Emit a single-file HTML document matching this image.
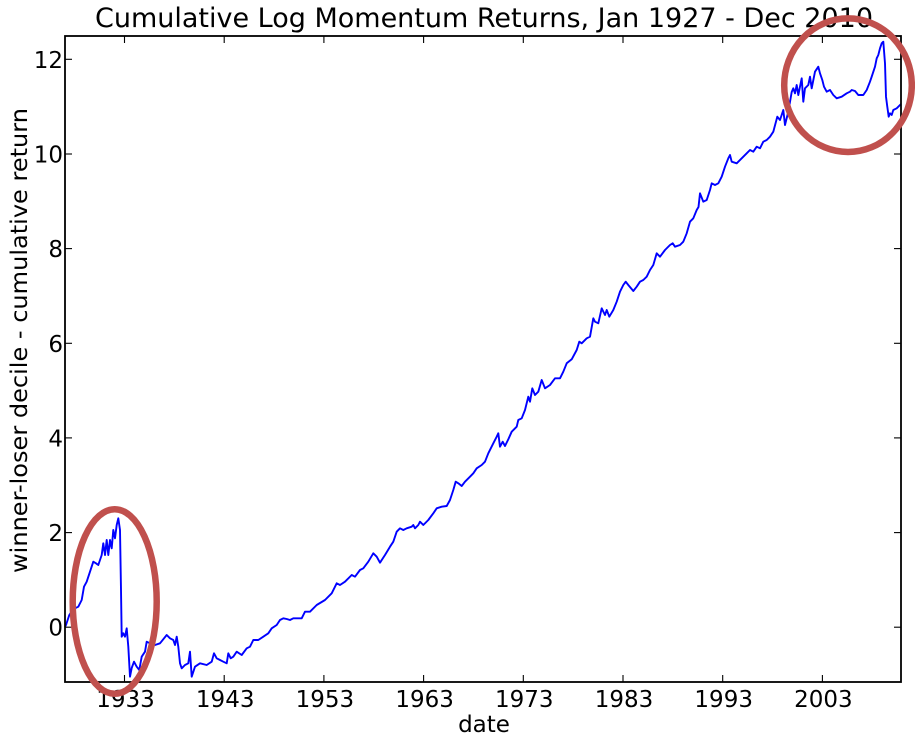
<!DOCTYPE html>
<html>
<head>
<meta charset="utf-8">
<style>
  html, body { margin: 0; padding: 0; background: #ffffff; }
  body { width: 915px; height: 738px; overflow: hidden; }
  svg { display: block; }
  text { font-family: "DejaVu Sans", "Liberation Sans", sans-serif; fill: #000; }
</style>
</head>
<body>
<svg width="915" height="738" viewBox="0 0 915 738" xmlns="http://www.w3.org/2000/svg">
  <rect x="0" y="0" width="915" height="738" fill="#ffffff"/>

  <!-- Title -->
  <text x="95" y="27" font-size="27" textLength="778" lengthAdjust="spacingAndGlyphs">Cumulative Log Momentum Returns, Jan 1927 - Dec 2010</text>

  <!-- Data line -->
  <polyline fill="none" stroke="#0000ff" stroke-width="1.9" stroke-linejoin="round" points="
65,627 66,625 69.3,615 72,611 75,608.3 78.3,606.7 81.7,600 84,586.7 86.7,581.7 90,571.7 93.3,561.7 96,563.3 98.3,565 101.7,555 103.3,543.3 105,555 106.7,540 108.3,555 110,540 111.7,548.3 113.3,530 115,538.3 116.7,525 118.3,518.3 120,530 121,590 121.7,636.7 123.3,633.3 125,636.7 126.7,628.3 128.3,646.7 130,676.7 131.7,668 134,661.7 136.7,666.7 139.3,670 141.7,656.7 145,651.7 146.7,641.7 150,643.3 155,645 160,643.3 166.7,635 170,638.3 173.3,640 175,645 176.7,636.7 178.3,646.7 180,663.3 181.7,668.3 185,665 188.3,663.3 190,651.7 191.7,676.7 195,666.7 200,663.3 206.7,665 211.7,661.7 214,653.3 216.7,658.3 220,660 223.3,661.7 226.7,663.3 228.3,653.3 230.7,658.3 233.3,656.7 236.7,651.7 241.7,655 246.7,648.3 250,646.7 253.3,640 258.3,640 263.3,636.7 268.3,633.3 271.7,628.3 276.7,625 280,620 283.3,618.3 286.7,619 290,620 293.3,618.3 296.7,618.3 301.7,618.3 305,611.7 310,611.7 316.7,605 325,600 331.7,593.3 336.7,583.3 340,585 345,581.7 351.7,575 355,576.7 360,570 363.3,568.3 368.3,561.7 373.3,553.3 376.7,556.7 380,562.7 385,555 390,546.7 393.3,541.7 396.7,531.7 400,528.3 403.3,530 406.7,528.3 411.7,526.7 413.3,525 415,528.3 418.3,525 420,521.7 423.3,525 428.3,520 433.3,513.3 436.7,508.3 441.7,506.7 446.7,506 450,500 453.3,490 455.7,481.7 458.3,483.3 461.7,486 465,481.7 470,476.7 473.3,473.3 476.7,468.3 481.7,465 485,461.7 488.3,453.3 493.3,443.3 496.7,436.7 498.3,433.3 500,446.7 502.7,441.7 505,446 508.3,439.3 511.7,431.7 516.7,426.7 518.3,420 521.7,418.3 525,410 528.3,396.7 530,401.7 532.3,388.3 535,395 538.3,391.7 541.7,380 545,388.3 550,385 555,378.3 560,378.3 563.3,371.7 566.7,363.3 571.7,359.3 576.7,350 579.3,341.7 581.7,343.3 586.7,338.3 590,336.7 593.3,318.3 595,321.7 598.3,323.3 601.7,308.3 605,315 606.7,310 609.3,316.7 613.3,310 616.7,301.7 620,291.7 623.3,285 625.7,281.7 628.3,285 633.3,291 636.7,286.7 640,281.7 643.3,280 646.7,276.7 650,270 653.3,265 656.7,253.3 660,256.7 665,250 670,245 672.7,243.3 675,246.7 680,245 683.3,241.7 686.7,233.3 690,221.7 693.3,218.3 696.7,210 698.5,207 700,193.3 703.3,201.7 706.7,200 710,190 711.7,183.3 715,185 718.3,183.3 721.7,176.7 725,166.7 728.3,158.3 730,155 731.7,161.7 736.7,163.3 741.7,158.3 746.7,153.3 750,150 753.3,151.7 756.7,146.7 760,148.3 763.3,141.7 766.7,140 770,136.7 773.3,131.7 777.3,116.7 780,120 783.3,110 785,125 788.3,111.7 791.7,92 793.3,88.3 795,93.3 796.7,85 798.3,95 801.7,78.3 803.3,101.7 805,88.3 808.3,85 810,76.7 811.7,88.3 815,71.7 818.3,66.7 820,73.3 822.3,80 824,86.7 826.7,91.7 830,90 833.3,95 836.7,98.3 841.7,96.7 846.7,93.3 850,91.7 851.7,90 855,91 858.3,95 863.3,95 866.7,90 870,81.7 871.7,76.7 875,66.7 876.7,58.3 878.3,55 880,48.3 881.7,43.3 883.3,41.7 885,63.3 886,96.7 887.3,106.7 888.7,116.7 890,113.3 891.7,115 893.3,110 896.7,108.3 900,105 901,104"/>

  <!-- Axes frame -->
  <rect x="65" y="36" width="836" height="646" fill="none" stroke="#000" stroke-width="1.8"/>

  <!-- Ticks -->
  <g stroke="#000" stroke-width="1.1">
    <line x1="65" y1="627.2" x2="72" y2="627.2"/>
    <line x1="65" y1="532.6" x2="72" y2="532.6"/>
    <line x1="65" y1="437.9" x2="72" y2="437.9"/>
    <line x1="65" y1="343.3" x2="72" y2="343.3"/>
    <line x1="65" y1="248.6" x2="72" y2="248.6"/>
    <line x1="65" y1="154.0" x2="72" y2="154.0"/>
    <line x1="65" y1="59.3" x2="72" y2="59.3"/>

    <line x1="901" y1="627.2" x2="894" y2="627.2"/>
    <line x1="901" y1="532.6" x2="894" y2="532.6"/>
    <line x1="901" y1="437.9" x2="894" y2="437.9"/>
    <line x1="901" y1="343.3" x2="894" y2="343.3"/>
    <line x1="901" y1="248.6" x2="894" y2="248.6"/>
    <line x1="901" y1="154.0" x2="894" y2="154.0"/>
    <line x1="901" y1="59.3" x2="894" y2="59.3"/>

    <line x1="124.5" y1="682" x2="124.5" y2="675"/>
    <line x1="224.2" y1="682" x2="224.2" y2="675"/>
    <line x1="323.9" y1="682" x2="323.9" y2="675"/>
    <line x1="423.6" y1="682" x2="423.6" y2="675"/>
    <line x1="523.3" y1="682" x2="523.3" y2="675"/>
    <line x1="623.0" y1="682" x2="623.0" y2="675"/>
    <line x1="722.7" y1="682" x2="722.7" y2="675"/>
    <line x1="822.4" y1="682" x2="822.4" y2="675"/>

    <line x1="124.5" y1="36" x2="124.5" y2="43"/>
    <line x1="224.2" y1="36" x2="224.2" y2="43"/>
    <line x1="323.9" y1="36" x2="323.9" y2="43"/>
    <line x1="423.6" y1="36" x2="423.6" y2="43"/>
    <line x1="523.3" y1="36" x2="523.3" y2="43"/>
    <line x1="623.0" y1="36" x2="623.0" y2="43"/>
    <line x1="722.7" y1="36" x2="722.7" y2="43"/>
    <line x1="822.4" y1="36" x2="822.4" y2="43"/>
  </g>

  <!-- Y tick labels -->
  <g font-size="23" text-anchor="end">
    <text x="63" y="635.7">0</text>
    <text x="63" y="541.1">2</text>
    <text x="63" y="446.4">4</text>
    <text x="63" y="351.8">6</text>
    <text x="63" y="257.1">8</text>
    <text x="63" y="162.5">10</text>
    <text x="63" y="67.8">12</text>
  </g>

  <!-- X tick labels -->
  <g font-size="23" text-anchor="middle">
    <text x="125.5" y="707">1933</text>
    <text x="225.2" y="707">1943</text>
    <text x="324.9" y="707">1953</text>
    <text x="424.6" y="707">1963</text>
    <text x="524.3" y="707">1973</text>
    <text x="624.0" y="707">1983</text>
    <text x="723.7" y="707">1993</text>
    <text x="823.4" y="707">2003</text>
  </g>

  <!-- Axis labels -->
  <text x="484" y="732" font-size="23" text-anchor="middle">date</text>
  <text transform="translate(27,340.5) rotate(-90)" x="0" y="0" font-size="23" text-anchor="middle" textLength="465" lengthAdjust="spacingAndGlyphs">winner-loser decile - cumulative return</text>

  <!-- Annotation ellipses -->
  <ellipse cx="114.7" cy="601.5" rx="42" ry="92.3" fill="none" stroke="#c0504d" stroke-width="6.5"/>
  <ellipse cx="848" cy="85.2" rx="63.8" ry="66.8" fill="none" stroke="#c0504d" stroke-width="6.5"/>
</svg>
</body>
</html>
